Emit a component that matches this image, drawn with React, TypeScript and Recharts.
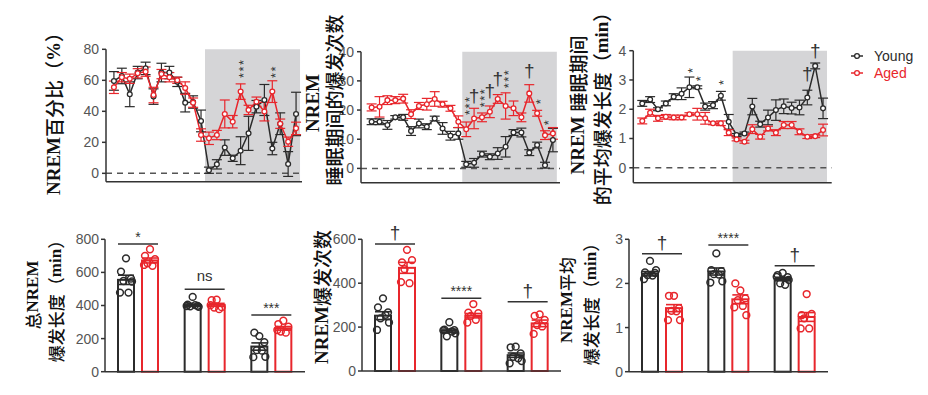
import React from "react";
import {
  LineChart,
  Line,
  BarChart,
  Bar,
  XAxis,
  YAxis,
  ErrorBar,
  ReferenceArea,
  ReferenceLine,
  ReferenceDot,
  Legend,
} from "recharts";

const BLACK = "#2b2b2b";
const RED = "#e8262c";
const AXIS = "#333";
const TICK_TEXT = "#555";
const SHADE = "#d5d5d7";
const SANS = "'Liberation Sans', Arial, sans-serif";

// 시간 (ZT, 0.5h 중심)
const HOURS = [
  0.5, 1.5, 2.5, 3.5, 4.5, 5.5, 6.5, 7.5, 8.5, 9.5, 10.5, 11.5,
  12.5, 13.5, 14.5, 15.5, 16.5, 17.5, 18.5, 19.5, 20.5, 21.5, 22.5, 23.5,
];
const SERIES_ORDER = ["Young", "Aged"];

// NREM 百分比
const PCT_YOUNG = [59.6, 62.8, 51, 65, 67.7, 49.5, 65, 65, 59, 45.6, 46, 33.8, 2, 5.8, 16.6, 9.7, 14.6, 25.8, 43, 47.3, 16, 32, 6, 38.3];
const PCT_YOUNG_SEM = [6, 5, 8, 4, 4, 5, 6, 4, 3, 6, 4, 7, 2, 3, 5, 2, 9, 11, 4, 10, 4, 7, 8, 14];
const PCT_AGED = [55.5, 62, 61, 64.5, 65.6, 50.5, 64, 62, 60, 55, 45.6, 24.7, 22.6, 24.7, 38.3, 33.3, 52.7, 40.9, 46.2, 39.8, 52.7, 32, 20.4, 29];
const PCT_AGED_SEM = [4, 3, 3, 3, 3, 5, 3, 3, 2, 4, 3, 4, 4, 3, 9, 4, 5, 3, 3, 6, 7, 3, 3, 4];
const PCT_MARKS = [
  { hour: 16.5, y: 61.5, mark: "***" },
  { hour: 20.5, y: 61.5, mark: "**" },
];

// 爆发次数
const CNT_YOUNG = [16, 16, 14.9, 17.5, 17.5, 12.8, 15.4, 14.3, 17.1, 13.7, 11.2, 12, 1.4, 1.9, 4.9, 4, 5.1, 7.4, 12.3, 12.3, 5.4, 8, 1.1, 9.7];
const CNT_YOUNG_SEM = [1, 1, 1.5, 0.6, 1, 1.5, 1.5, 1, 0.8, 2, 1.5, 2, 1, 1.5, 1, 1, 2, 3.5, 1, 1.5, 1, 1, 1, 4];
const CNT_AGED = [20.9, 21.1, 23.4, 23.4, 23.9, 18.6, 21.4, 22, 23.8, 22, 20.6, 16, 13.4, 17.1, 17.5, 19.4, 23.8, 21.4, 20.6, 17.5, 25.7, 18.9, 11.4, 12];
const CNT_AGED_SEM = [1.2, 3.5, 1.5, 1.2, 1.5, 1.5, 1.2, 2, 2.5, 1, 1, 2, 2.5, 3.5, 1.5, 2, 1.5, 4.5, 2.5, 1.5, 3, 1, 1.5, 2];
const CNT_MARKS = [
  { hour: 12.5, y: 18.3, mark: "***" },
  { hour: 13.5, y: 21.7, mark: "†" },
  { hour: 14.5, y: 21, mark: "***" },
  { hour: 15.5, y: 23.4, mark: "†" },
  { hour: 16.5, y: 27.5, mark: "†" },
  { hour: 17.5, y: 27.5, mark: "***" },
  { hour: 20.5, y: 30.3, mark: "†" },
  { hour: 21.5, y: 22, mark: "*" },
  { hour: 22.5, y: 14.8, mark: "*" },
];

// 平均爆发长度
const LEN_YOUNG = [2.2, 2.33, 2.0, 2.2, 2.43, 2.53, 2.75, 2.75, 2.09, 2.14, 2.46, 1.57, 1.12, 1.17, 2.09, 1.49, 1.72, 1.97, 2.1, 2.04, 2.06, 2.4, 3.48, 2.03];
const LEN_YOUNG_SEM = [0.1, 0.1, 0.05, 0.08, 0.1, 0.2, 0.35, 0.05, 0.12, 0.12, 0.15, 0.25, 0.05, 0.05, 0.28, 0.1, 0.25, 0.35, 0.25, 0.2, 0.25, 0.25, 0.1, 0.35];
const LEN_AGED = [1.6, 1.88, 1.69, 1.74, 1.72, 1.72, 1.83, 1.83, 1.69, 1.52, 1.52, 1.2, 0.97, 0.89, 1.32, 1.06, 1.34, 1.2, 1.46, 1.46, 1.23, 1.06, 1.08, 1.29];
const LEN_AGED_SEM = [0.1, 0.12, 0.1, 0.08, 0.08, 0.08, 0.05, 0.2, 0.2, 0.05, 0.08, 0.1, 0.05, 0.05, 0.15, 0.08, 0.08, 0.1, 0.12, 0.12, 0.1, 0.06, 0.05, 0.2];
const LEN_MARKS = [
  { hour: 6.5, y: 3.24, mark: "*" },
  { hour: 7.5, y: 2.96, mark: "*" },
  { hour: 10.5, y: 2.83, mark: "*" },
  { hour: 21.5, y: 2.9, mark: "†" },
  { hour: 22.5, y: 3.68, mark: "†" },
];

// 막대그래프 그룹 (24h / 光照期 / 黑暗期)
const GROUPS = ["24 h", "光照期", "黑暗期"];

const TOT_YOUNG = [555, 402, 152];
const TOT_YOUNG_SEM = [28, 7, 22];
const TOT_YOUNG_PTS = [[685, 605, 562, 548, 478, 478, 545], [452, 405, 398, 395, 402, 397, 392], [215, 236, 178, 130, 127, 88, 90]];
const TOT_AGED = [672, 404, 262];
const TOT_AGED_SEM = [15, 9, 11];
const TOT_AGED_PTS = [[740, 700, 680, 655, 640, 645], [435, 432, 390, 388, 378, 402], [308, 288, 272, 243, 236, 252]];
const TOT_SIG_Y = [772, 498, 342];
const TOT_SIG = ["*", "ns", "***"];

const NUM_YOUNG = [252, 183, 72];
const NUM_YOUNG_SEM = [18, 8, 10];
const NUM_YOUNG_PTS = [[331, 290, 267, 240, 256, 187, 221], [222, 188, 186, 158, 180, 185, 172], [111, 108, 80, 65, 58, 35, 45]];
const NUM_AGED = [470, 252, 217];
const NUM_AGED_SEM = [25, 10, 15];
const NUM_AGED_PTS = [[552, 495, 505, 464, 400, 405], [305, 266, 263, 251, 233, 221], [258, 251, 233, 209, 203, 169]];
const NUM_SIG_Y = [579, 331, 316];
const NUM_SIG = ["†", "****", "†"];

const AVG_YOUNG = [2.22, 2.27, 2.1];
const AVG_YOUNG_SEM = [0.05, 0.08, 0.04];
const AVG_YOUNG_PTS = [[2.51, 2.25, 2.24, 2.19, 2.18, 2.1, 2.3], [2.68, 2.3, 2.28, 2.21, 2.2, 2.02, 2.05], [2.24, 2.19, 2.14, 2.0, 1.97, 2.15, 2.08]];
const AVG_AGED = [1.44, 1.64, 1.24];
const AVG_AGED_SEM = [0.08, 0.1, 0.1];
const AVG_AGED_PTS = [[1.72, 1.72, 1.44, 1.38, 1.37, 1.17, 1.17], [1.84, 2.0, 1.66, 1.62, 1.49, 1.46, 1.28], [1.76, 1.28, 1.31, 1.21, 0.98, 0.98]];
const AVG_SIG_Y = [2.67, 2.87, 2.4];
const AVG_SIG = ["†", "****", "†"];

const YW = 40; // y축 폭
const XH = 8; // x축 높이
const BAR_GAP = 8;
const JITTER = [0, -5, 5, -2.5, 2.5, -6, 6];

type Box = { x: number; y: number; w: number; h: number };
type Plot = { l: number; t: number; r: number; b: number };

const marginOf = (box: Box, plot: Plot) => ({
  top: plot.t - box.y,
  left: plot.l - box.x - YW,
  right: box.x + box.w - plot.r,
  bottom: box.y + box.h - plot.b - XH,
});

const axisStyle = { stroke: AXIS, strokeWidth: 1.5 };
const tickStyle = { fill: TICK_TEXT, fontSize: 14, fontFamily: SANS };

// 별표 / 단검 표시 (별은 세로로 쌓음: 하나의 text 를 90도 회전)
const StackMark = ({ cx, cy, mark }: { cx: number; cy: number; mark: string }) => {
  if (mark === "†") {
    return (
      <text x={cx} y={cy - 3} textAnchor="middle" fontSize={19} fontFamily={SANS} fill={AXIS}>
        †
      </text>
    );
  }
  return (
    <text
      transform={`translate(${cx},${cy}) rotate(-90)`}
      x={0}
      y={7.5}
      letterSpacing={1.4}
      fontSize={13}
      fontFamily={SANS}
      fill={AXIS}
    >
      {mark}
    </text>
  );
};

const LegendContent = (props: any) => {
  const items = [...(props.payload || [])].sort(
    (a: any, b: any) => SERIES_ORDER.indexOf(a.value) - SERIES_ORDER.indexOf(b.value)
  );
  return (
    <div style={{ fontFamily: SANS, fontSize: 14 }}>
      {items.map((e: any) => (
        <div key={e.value} style={{ display: "flex", alignItems: "center", height: 17.6, color: e.color }}>
          <svg width={12} height={10}>
            <line x1={0} y1={5} x2={12} y2={5} stroke={e.color} strokeWidth={1.5} />
            <circle cx={6} cy={5} r={2.4} fill="#fff" stroke={e.color} strokeWidth={1.3} />
          </svg>
          <span style={{ marginLeft: 11 }}>{e.value}</span>
        </div>
      ))}
    </div>
  );
};

interface TimeCourseProps {
  box: Box;
  plot: Plot;
  xDomain: [number, number];
  yDomain: [number, number];
  yTicks: number[];
  shadeTop: number;
  young: number[];
  youngSem: number[];
  aged: number[];
  agedSem: number[];
  marks: { hour: number; y: number; mark: string }[];
  legend?: boolean;
}

const TimeCourse = (p: TimeCourseProps) => {
  const data = HOURS.map((h, i) => ({
    hour: h,
    young: p.young[i],
    youngSem: p.youngSem[i],
    aged: p.aged[i],
    agedSem: p.agedSem[i],
  }));
  return (
    <div style={{ position: "absolute", left: p.box.x, top: p.box.y }}>
      <LineChart width={p.box.w} height={p.box.h} data={data} margin={marginOf(p.box, p.plot)}>
        <ReferenceArea x1={12} x2={24} y1={p.yDomain[0]} y2={p.shadeTop} fill={SHADE} fillOpacity={1} stroke="none" />
        <ReferenceLine y={0} stroke="#555" strokeWidth={1.5} strokeDasharray="6 5" />
        <XAxis
          type="number"
          dataKey="hour"
          domain={p.xDomain}
          ticks={[0, 6, 12, 18, 24]}
          allowDataOverflow
          tick={false}
          tickSize={4}
          height={XH}
          axisLine={axisStyle}
          tickLine={axisStyle}
        />
        <YAxis
          domain={p.yDomain}
          ticks={p.yTicks}
          allowDataOverflow
          width={YW}
          tickSize={4}
          tickMargin={3}
          tick={tickStyle}
          axisLine={axisStyle}
          tickLine={axisStyle}
        />
        <Line
          dataKey="young"
          name="Young"
          stroke={BLACK}
          strokeWidth={1.5}
          dot={{ r: 2.4, fill: "#fff", stroke: BLACK, strokeWidth: 1.3 }}
          isAnimationActive={false}
        >
          <ErrorBar dataKey="youngSem" width={5} stroke={BLACK} strokeWidth={1.2} direction="y" />
        </Line>
        <Line
          dataKey="aged"
          name="Aged"
          stroke={RED}
          strokeWidth={1.5}
          dot={{ r: 2.4, fill: "#fff", stroke: RED, strokeWidth: 1.3 }}
          isAnimationActive={false}
        >
          <ErrorBar dataKey="agedSem" width={5} stroke={RED} strokeWidth={1.2} direction="y" />
        </Line>
        {p.marks.map((m, i) => (
          <ReferenceDot
            key={i}
            x={m.hour}
            y={m.y}
            r={0}
            shape={(s: any) => <StackMark cx={s.cx} cy={s.cy} mark={m.mark} />}
          />
        ))}
        {p.legend && (
          <Legend
            layout="vertical"
            align="center"
            verticalAlign="middle"
            wrapperStyle={{ left: 271, top: 47, width: 80 }}
            content={LegendContent}
          />
        )}
      </LineChart>
    </div>
  );
};

// 막대 + 개별점 + 유의성 표시
const makeBarShape = (meanKey: string, ptsKey: string, color: string, withSig: boolean) => (s: any) => {
  const { x, y, width, height, payload } = s;
  const base = y + height;
  const k = height / payload[meanKey];
  const pts: number[] = payload[ptsKey];
  let sig = null;
  if (withSig) {
    const x1 = x;
    const x2 = x + 2 * width + BAR_GAP;
    const ly = base - payload.sigY * k;
    const cx = (x1 + x2) / 2;
    const t: string = payload.sigText;
    const ty = t === "†" ? ly - 5 : t === "ns" ? ly - 8 : ly - 2;
    sig = (
      <g>
        <line x1={x1} x2={x2} y1={ly} y2={ly} stroke={AXIS} strokeWidth={1.5} />
        <text
          x={cx}
          y={ty}
          textAnchor="middle"
          fontFamily={SANS}
          fontSize={t === "†" ? 19 : t === "ns" ? 15 : 14}
          fill={AXIS}
        >
          {t}
        </text>
      </g>
    );
  }
  return (
    <g>
      <rect x={x} y={y} width={width} height={height} fill="#fff" stroke={color} strokeWidth={2} />
      {pts.map((v, i) => (
        <circle
          key={i}
          cx={x + width / 2 + JITTER[i % JITTER.length]}
          cy={base - v * k}
          r={3.4}
          fill="none"
          stroke={color}
          strokeWidth={1.5}
        />
      ))}
      {sig}
    </g>
  );
};

interface GroupBarsProps {
  box: Box;
  plot: Plot;
  yDomain: [number, number];
  yTicks: number[];
  youngMean: number[];
  youngSem: number[];
  youngPts: number[][];
  agedMean: number[];
  agedSem: number[];
  agedPts: number[][];
  sigY: number[];
  sigText: string[];
}

const GroupBars = (p: GroupBarsProps) => {
  const data = GROUPS.map((g, i) => ({
    group: g,
    youngMean: p.youngMean[i],
    youngSem: p.youngSem[i],
    youngPts: p.youngPts[i],
    agedMean: p.agedMean[i],
    agedSem: p.agedSem[i],
    agedPts: p.agedPts[i],
    sigY: p.sigY[i],
    sigText: p.sigText[i],
  }));
  return (
    <div style={{ position: "absolute", left: p.box.x, top: p.box.y }}>
      <BarChart
        width={p.box.w}
        height={p.box.h}
        data={data}
        margin={marginOf(p.box, p.plot)}
        barSize={16}
        barGap={BAR_GAP}
      >
        <XAxis
          dataKey="group"
          tick={false}
          tickSize={5}
          height={XH}
          axisLine={axisStyle}
          tickLine={axisStyle}
        />
        <YAxis
          domain={p.yDomain}
          ticks={p.yTicks}
          width={YW}
          tickSize={4}
          tickMargin={2}
          tick={tickStyle}
          axisLine={axisStyle}
          tickLine={axisStyle}
        />
        <Bar
          dataKey="youngMean"
          name="Young"
          fill="#fff"
          stroke={BLACK}
          shape={makeBarShape("youngMean", "youngPts", BLACK, true)}
          isAnimationActive={false}
        >
          <ErrorBar dataKey="youngSem" width={8} stroke={BLACK} strokeWidth={1.6} direction="y" />
        </Bar>
        <Bar
          dataKey="agedMean"
          name="Aged"
          fill="#fff"
          stroke={RED}
          shape={makeBarShape("agedMean", "agedPts", RED, false)}
          isAnimationActive={false}
        >
          <ErrorBar dataKey="agedSem" width={8} stroke={RED} strokeWidth={1.6} direction="y" />
        </Bar>
      </BarChart>
    </div>
  );
};

// 세로 축 제목 (CJK 는 고딕, 라틴은 굵은 세리프)
const CJK_RE = /[\u3000-\u9fff\uff00-\uffef]/;
const splitRuns = (s: string) => {
  const runs: { t: string; cjk: boolean }[] = [];
  for (const ch of s) {
    const cjk = CJK_RE.test(ch);
    const last = runs[runs.length - 1];
    if (last && last.cjk === cjk) last.t += ch;
    else runs.push({ t: ch, cjk });
  }
  return runs;
};

const AXIS_TITLES = [
  { text: "NREM百分比（%）", x: 53, y: 109, size: 19 },
  { text: "NREM", x: 312, y: 103, size: 19 },
  { text: "睡眠期间的爆发次数", x: 333, y: 100, size: 19 },
  { text: "NREM 睡眠期间", x: 577, y: 105, size: 19 },
  { text: "的平均爆发长度（min）", x: 601, y: 104, size: 19 },
  { text: "总NREM", x: 32, y: 295, size: 17 },
  { text: "爆发长度（min）", x: 55, y: 297, size: 17 },
  { text: "NREM爆发次数", x: 321, y: 297, size: 19 },
  { text: "NREM平均", x: 566, y: 300, size: 17 },
  { text: "爆发长度（min）", x: 590, y: 300, size: 17 },
];

const AxisTitles = () => (
  <svg
    width={928}
    height={395}
    style={{ position: "absolute", left: 0, top: 0, pointerEvents: "none" }}
  >
    {AXIS_TITLES.map((a, i) => (
      <text
        key={i}
        transform={`translate(${a.x},${a.y}) rotate(-90)`}
        textAnchor="middle"
        dominantBaseline="central"
        fontSize={a.size}
        fill="#111"
      >
        {splitRuns(a.text).map((r, j) => (
          <tspan
            key={j}
            fontFamily={r.cjk ? "'Noto Sans CJK SC', sans-serif" : "'Liberation Serif', 'Times New Roman', serif"}
            fontWeight={r.cjk ? 500 : 700}
          >
            {r.t}
          </tspan>
        ))}
      </text>
    ))}
  </svg>
);

export default function App() {
  return (
    <div style={{ position: "absolute", left: 0, top: 0, width: 928, height: 395, background: "#fff" }}>
      <TimeCourse
        box={{ x: 0, y: 0, w: 310, h: 200 }}
        plot={{ l: 106, t: 49.3, r: 302, b: 181.7 }}
        xDomain={[-0.5, 24.25]}
        yDomain={[-5.4, 80]}
        yTicks={[0, 20, 40, 60, 80]}
        shadeTop={80}
        young={PCT_YOUNG}
        youngSem={PCT_YOUNG_SEM}
        aged={PCT_AGED}
        agedSem={PCT_AGED_SEM}
        marks={PCT_MARKS}
      />
      <TimeCourse
        box={{ x: 300, y: 0, w: 280, h: 200 }}
        plot={{ l: 361, t: 51.7, r: 560, b: 182.7 }}
        xDomain={[-0.85, 24.4]}
        yDomain={[-4.9, 40]}
        yTicks={[0, 10, 20, 30, 40]}
        shadeTop={40}
        young={CNT_YOUNG}
        youngSem={CNT_YOUNG_SEM}
        aged={CNT_AGED}
        agedSem={CNT_AGED_SEM}
        marks={CNT_MARKS}
      />
      <TimeCourse
        box={{ x: 580, y: 0, w: 348, h: 200 }}
        plot={{ l: 633.3, t: 50.7, r: 831.7, b: 182.7 }}
        xDomain={[-0.64, 24.6]}
        yDomain={[-0.51, 4]}
        yTicks={[0, 1, 2, 3, 4]}
        shadeTop={4}
        young={LEN_YOUNG}
        youngSem={LEN_YOUNG_SEM}
        aged={LEN_AGED}
        agedSem={LEN_AGED_SEM}
        marks={LEN_MARKS}
        legend
      />
      <GroupBars
        box={{ x: 0, y: 220, w: 310, h: 175 }}
        plot={{ l: 105, t: 239.3, r: 305, b: 371.7 }}
        yDomain={[0, 800]}
        yTicks={[0, 200, 400, 600, 800]}
        youngMean={TOT_YOUNG}
        youngSem={TOT_YOUNG_SEM}
        youngPts={TOT_YOUNG_PTS}
        agedMean={TOT_AGED}
        agedSem={TOT_AGED_SEM}
        agedPts={TOT_AGED_PTS}
        sigY={TOT_SIG_Y}
        sigText={TOT_SIG}
      />
      <GroupBars
        box={{ x: 300, y: 220, w: 280, h: 175 }}
        plot={{ l: 362, t: 239.3, r: 561, b: 371 }}
        yDomain={[0, 600]}
        yTicks={[0, 200, 400, 600]}
        youngMean={NUM_YOUNG}
        youngSem={NUM_YOUNG_SEM}
        youngPts={NUM_YOUNG_PTS}
        agedMean={NUM_AGED}
        agedSem={NUM_AGED_SEM}
        agedPts={NUM_AGED_PTS}
        sigY={NUM_SIG_Y}
        sigText={NUM_SIG}
      />
      <GroupBars
        box={{ x: 580, y: 220, w: 300, h: 175 }}
        plot={{ l: 629, t: 239.3, r: 828, b: 371.7 }}
        yDomain={[0, 3]}
        yTicks={[0, 1, 2, 3]}
        youngMean={AVG_YOUNG}
        youngSem={AVG_YOUNG_SEM}
        youngPts={AVG_YOUNG_PTS}
        agedMean={AVG_AGED}
        agedSem={AVG_AGED_SEM}
        agedPts={AVG_AGED_PTS}
        sigY={AVG_SIG_Y}
        sigText={AVG_SIG}
      />
      <AxisTitles />
    </div>
  );
}
